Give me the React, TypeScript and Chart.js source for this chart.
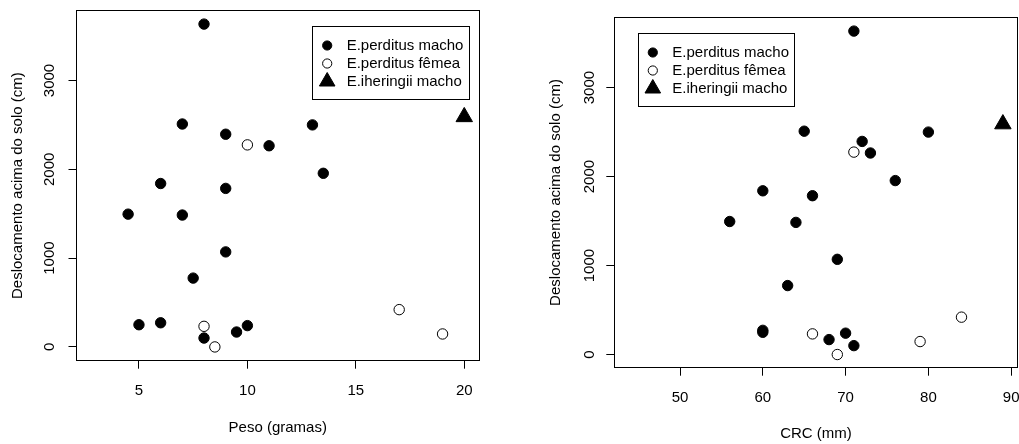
import React, { useEffect, useRef } from "react";
import { Chart, registerables } from "chart.js";

Chart.register(...registerables);

const FONT = '"Liberation Sans", Arial, Helvetica, sans-serif';

// ---- data ----
const seriesLabels = ["E.perditus macho", "E.perditus fêmea", "E.iheringii macho"];

const pesoMacho = [8, 7, 9, 13, 11, 13.5, 6, 9, 4.5, 7, 9, 7.5, 5, 6, 8, 9.5, 10];
const crcMacho = [71, 65, 72, 80, 73, 76, 60, 66, 56, 64, 69, 63, 60, 60, 71, 68, 70];
const deslocMacho = [3635, 2510, 2395, 2500, 2265, 1955, 1840, 1785, 1495, 1485, 1070, 775, 250, 272, 100, 168, 240];

const pesoFemea = [10, 8, 8.5, 17, 19];
const crcFemea = [71, 66, 69, 84, 79];
const deslocFemea = [2275, 232, 0, 420, 146];

const pesoIheringii = [20];
const crcIheringii = [89];
const deslocIheringii = [2590];

const pesoTicks = [5, 10, 15, 20];
const crcTicks = [50, 60, 70, 80, 90];
const deslocTicks = [0, 1000, 2000, 3000];

const pesoTitle = "Peso (gramas)";
const crcTitle = "CRC (mm)";
const deslocTitle = "Deslocamento acima do solo (cm)";

// ---- plugins ----
const align = (p: number) => Math.round(p - 0.5) + 0.5;

const boxPlugin = {
  id: "rbox",
  afterDraw(chart: any) {
    const { ctx, chartArea: a } = chart;
    ctx.save();
    ctx.strokeStyle = "#000";
    ctx.lineWidth = 1;
    const l = align(a.left), r = align(a.right), t = align(a.top), b = align(a.bottom);
    ctx.strokeRect(l, t, r - l, b - t);
    ctx.restore();
  },
};

const legendPlugin = {
  id: "rlegend",
  afterDatasetsDraw(chart: any, _args: any, opts: any) {
    const { ctx } = chart;
    const { x, y, w, h } = opts;
    ctx.save();
    ctx.fillStyle = "#fff";
    ctx.fillRect(x, y, w, h);
    ctx.strokeStyle = "#000";
    ctx.lineWidth = 1;
    ctx.strokeRect(align(x), align(y), Math.round(w), Math.round(h));
    const rows = [19, 37, 55];
    chart.data.datasets.forEach((ds: any, i: number) => {
      const cy = y + rows[i];
      const cx = x + 14.5;
      ctx.lineWidth = 1;
      ctx.strokeStyle = "#000";
      ctx.fillStyle = ds.pointBackgroundColor;
      ctx.beginPath();
      if (ds.pointStyle === "triangle") {
        const r = 9;
        ctx.moveTo(cx, cy - r);
        ctx.lineTo(cx + r * Math.sin((2 * Math.PI) / 3), cy - r * Math.cos((2 * Math.PI) / 3));
        ctx.lineTo(cx + r * Math.sin((4 * Math.PI) / 3), cy - r * Math.cos((4 * Math.PI) / 3));
        ctx.closePath();
      } else {
        ctx.arc(cx, cy, 4.6, 0, Math.PI * 2);
      }
      ctx.fill();
      ctx.stroke();
      ctx.fillStyle = "#000";
      ctx.font = `15px ${FONT}`;
      ctx.textBaseline = "middle";
      ctx.textAlign = "left";
      ctx.fillText(ds.label, x + 34, y + rows[i]);
    });
    ctx.restore();
  },
};

type Panel = {
  width: number;
  xMacho: number[];
  xFemea: number[];
  xIher: number[];
  xTicks: number[];
  xTitle: string;
  xMin: number;
  xMax: number;
  yMin: number;
  yMax: number;
  yAxisWidth: number;
  xAxisHeight: number;
  padTop: number;
  padRight: number;
  xTickPad: number;
  xTitlePad: number;
  yTickPad: number;
  yTitlePad: number;
  legend: { x: number; y: number; w: number; h: number };
};

function makePoints(xs: number[], ys: number[]) {
  return xs.map((v, i) => ({ x: v, y: ys[i] }));
}

function ScatterPanel({ p }: { p: Panel }) {
  const ref = useRef<HTMLCanvasElement | null>(null);
  useEffect(() => {
    if (!ref.current) return;
    const tickFont = { family: FONT, size: 15 };
    const chart = new Chart(ref.current, {
      type: "scatter",
      data: {
        datasets: [
          {
            label: seriesLabels[0],
            data: makePoints(p.xMacho, deslocMacho),
            pointStyle: "circle",
            pointRadius: 5.2,
            pointBackgroundColor: "#000",
            pointBorderColor: "#000",
            pointBorderWidth: 1,
            clip: false,
          },
          {
            label: seriesLabels[1],
            data: makePoints(p.xFemea, deslocFemea),
            pointStyle: "circle",
            pointRadius: 5.2,
            pointBackgroundColor: "#fff",
            pointBorderColor: "#000",
            pointBorderWidth: 1,
            clip: false,
          },
          {
            label: seriesLabels[2],
            data: makePoints(p.xIher, deslocIheringii),
            pointStyle: "triangle",
            pointRadius: 9.5,
            pointBackgroundColor: "#000",
            pointBorderColor: "#000",
            pointBorderWidth: 1,
            clip: false,
          },
        ] as any,
      },
      options: {
        animation: false,
        responsive: false,
        events: [],
        layout: { padding: { left: 0, top: p.padTop, right: p.padRight, bottom: 0 } },
        plugins: {
          legend: { display: false },
          tooltip: { enabled: false },
          rlegend: p.legend,
        } as any,
        scales: {
          x: {
            type: "linear",
            min: p.xMin,
            max: p.xMax,
            afterBuildTicks: (s: any) => {
              s.ticks = p.xTicks.map((v) => ({ value: v }));
            },
            afterFit: (s: any) => {
              s.height = p.xAxisHeight;
              s.paddingLeft = 0;
              s.paddingRight = 0;
            },
            grid: { display: true, drawOnChartArea: false, drawTicks: true, tickLength: 8, color: "#000", lineWidth: 1 },
            border: { display: false },
            ticks: {
              color: "#000",
              font: tickFont,
              padding: p.xTickPad,
              maxRotation: 0,
              minRotation: 0,
              autoSkip: false,
              callback: (v: any) => String(v),
            },
            title: {
              display: true,
              text: p.xTitle,
              color: "#000",
              font: tickFont,
              padding: { top: 0, bottom: p.xTitlePad },
            },
          },
          y: {
            type: "linear",
            min: p.yMin,
            max: p.yMax,
            afterBuildTicks: (s: any) => {
              s.ticks = deslocTicks.map((v) => ({ value: v }));
            },
            afterFit: (s: any) => {
              s.width = p.yAxisWidth;
              s.paddingTop = 0;
              s.paddingBottom = 0;
            },
            grid: { display: true, drawOnChartArea: false, drawTicks: true, tickLength: 8, color: "#000", lineWidth: 1 },
            border: { display: false },
            ticks: {
              color: "#000",
              font: tickFont,
              padding: p.yTickPad,
              minRotation: 90,
              maxRotation: 90,
              crossAlign: "center",
              autoSkip: false,
              callback: (v: any) => String(v),
            },
            title: {
              display: true,
              text: deslocTitle,
              color: "#000",
              font: tickFont,
              padding: { top: p.yTitlePad, bottom: 0 },
            },
          },
        },
      } as any,
      plugins: [boxPlugin, legendPlugin],
    });
    return () => chart.destroy();
  }, [p]);
  return <canvas ref={ref} width={p.width} height={444} style={{ display: "block", width: p.width, height: 444 }} />;
}

const leftPanel: Panel = {
  width: 510,
  xMacho: pesoMacho,
  xFemea: pesoFemea,
  xIher: pesoIheringii,
  xTicks: pesoTicks,
  xTitle: pesoTitle,
  xMin: 2.12,
  xMax: 20.68,
  yMin: -155,
  yMax: 3788,
  yAxisWidth: 76.5,
  xAxisHeight: 83.3,
  padTop: 10,
  padRight: 31,
  xTickPad: 13,
  xTitlePad: 7,
  yTickPad: 1.5,
  yTitlePad: 8.5,
  legend: { x: 312.7, y: 26.5, w: 156.6, h: 73 },
};

const rightPanel: Panel = {
  width: 540,
  xMacho: crcMacho,
  xFemea: crcFemea,
  xIher: crcIheringii,
  xTicks: crcTicks,
  xTitle: crcTitle,
  xMin: 42.06,
  xMax: 90.79,
  yMin: -148,
  yMax: 3790,
  yAxisWidth: 104.3,
  xAxisHeight: 76.3,
  padTop: 17.3,
  padRight: 32.3,
  xTickPad: 13.5,
  xTitlePad: 1,
  yTickPad: 0,
  yTitlePad: 36.5,
  legend: { x: 128.3, y: 33.5, w: 156, h: 73 },
};

export default function App() {
  return (
    <div
      style={{
        position: "absolute",
        left: 0,
        top: 0,
        width: 1019,
        height: 444,
        overflow: "hidden",
        background: "#fff",
      }}
    >
      <div style={{ position: "absolute", left: 0, top: 0 }}>
        <ScatterPanel p={leftPanel} />
      </div>
      <div style={{ position: "absolute", left: 510, top: 0 }}>
        <ScatterPanel p={rightPanel} />
      </div>
    </div>
  );
}
